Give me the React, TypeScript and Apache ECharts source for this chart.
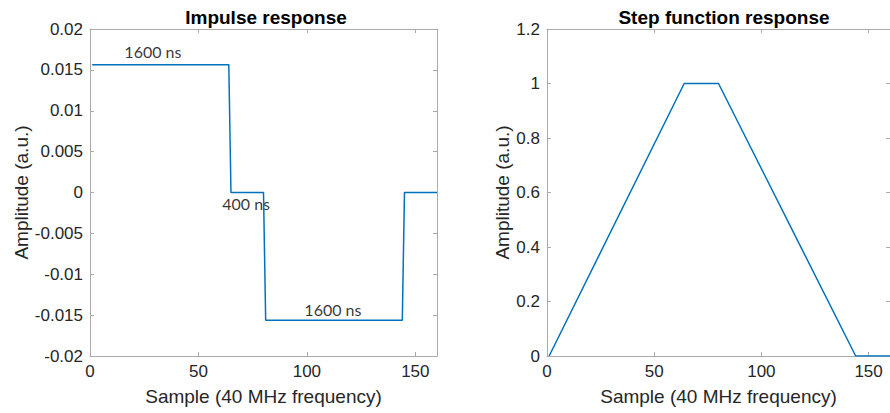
import React, { useEffect, useRef } from "react";
import * as echarts from "echarts";

// Impulse response: breakpoints [sample, amplitude]
const impulseX = [1, 64, 65, 80, 81, 144, 145, 160];
const impulseY = [0.015625, 0.015625, 0, 0, -0.015625, -0.015625, 0, 0];

// Step function response: breakpoints [sample, amplitude]
const stepX = [1, 64, 80, 144, 160];
const stepY = [0, 1, 1, 0, 0];

// Annotations on the impulse response
const annotText = ["1600 ns", "400 ns", "1600 ns"];
const annotX = [29, 72, 112];
const annotY = [0.0172, -0.00135, -0.01436];

const titles = ["Impulse response", "Step function response"];
const xName = "Sample (40 MHz frequency)";
const yName = "Amplitude (a.u.)";

const AXIS_COLOR = "#aaaaaa";
const TEXT_COLOR = "#262626";
const LINE_COLOR = "#0072BD";
const FONT = "'Liberation Sans', Arial, Helvetica, sans-serif";

export default function App() {
  const ref = useRef<HTMLDivElement>(null);

  useEffect(() => {
    document.body.style.margin = "0";
    if (!ref.current) return;
    const chart = echarts.init(ref.current, null, { renderer: "svg" });

    const grids = [
      { left: 90, top: 29, width: 347, height: 327 },
      { left: 547, top: 29, width: 348, height: 327 },
    ];

    const tickBase = {
      show: true,
      inside: true,
      length: 4,
      lineStyle: { color: AXIS_COLOR, width: 1 },
    };
    const lineBase = { show: true, lineStyle: { color: AXIS_COLOR, width: 1 } };

    const mkX = (gi: number, pos: "bottom" | "top") => ({
      type: "value",
      gridIndex: gi,
      position: pos,
      min: 0,
      max: 160,
      interval: 50,
      axisLine: { ...lineBase, onZero: false },
      axisTick: tickBase,
      splitLine: { show: false },
      axisLabel:
        pos === "bottom"
          ? {
              show: true,
              showMaxLabel: false,
              fontSize: 17,
              fontFamily: FONT,
              color: TEXT_COLOR,
              margin: 7,
            }
          : { show: false },
      name: pos === "bottom" ? xName : "",
      nameLocation: "middle",
      nameGap: 31,
      nameTextStyle: { fontSize: 19, fontFamily: FONT, color: TEXT_COLOR },
    });

    const mkY = (
      gi: number,
      pos: "left" | "right",
      min: number,
      max: number,
      interval: number,
      gap: number
    ) => ({
      type: "value",
      gridIndex: gi,
      position: pos,
      min,
      max,
      interval,
      axisLine: { ...lineBase, onZero: false },
      axisTick: tickBase,
      splitLine: { show: false },
      axisLabel:
        pos === "left"
          ? {
              show: true,
              fontSize: 17,
              fontFamily: FONT,
              color: TEXT_COLOR,
              margin: 7,
            }
          : { show: false },
      name: pos === "left" ? yName : "",
      nameLocation: "middle",
      nameGap: gap,
      nameTextStyle: { fontSize: 19, fontFamily: FONT, color: TEXT_COLOR },
    });

    const option: any = {
      animation: false,
      title: [
        {
          text: titles[0],
          left: 261,
          top: 3,
          textAlign: "center",
          textStyle: { fontSize: 19, fontWeight: "bold", fontFamily: FONT, color: "#000" },
        },
        {
          text: titles[1],
          left: 719,
          top: 3,
          textAlign: "center",
          textStyle: { fontSize: 19, fontWeight: "bold", fontFamily: FONT, color: "#000" },
        },
      ],
      grid: grids,
      xAxis: [mkX(0, "bottom"), mkX(0, "top"), mkX(1, "bottom"), mkX(1, "top")],
      yAxis: [
        mkY(0, "left", -0.02, 0.02, 0.005, 58),
        mkY(0, "right", -0.02, 0.02, 0.005, 58),
        mkY(1, "left", 0, 1.2, 0.2, 33),
        mkY(1, "right", 0, 1.2, 0.2, 33),
      ],
      series: [
        {
          type: "line",
          xAxisIndex: 0,
          yAxisIndex: 0,
          data: impulseX.map((x, i) => [x, impulseY[i]]),
          showSymbol: false,
          symbol: "none",
          lineStyle: { color: LINE_COLOR, width: 1.5 },
        },
        {
          type: "scatter",
          xAxisIndex: 0,
          yAxisIndex: 0,
          symbolSize: 0,
          data: annotX.map((x, i) => ({ value: [x, annotY[i]], name: annotText[i] })),
          label: {
            show: true,
            position: "inside",
            formatter: (p: any) => p.name,
            fontSize: 16,
            fontFamily: "Lato, 'Open Sans', sans-serif",
            color: "#000",
          },
        },
        {
          type: "line",
          xAxisIndex: 2,
          yAxisIndex: 2,
          data: stepX.map((x, i) => [x, stepY[i]]),
          showSymbol: false,
          symbol: "none",
          lineStyle: { color: LINE_COLOR, width: 1.5 },
        },
      ],
    };

    chart.setOption(option);
    return () => chart.dispose();
  }, []);

  return <div ref={ref} style={{ width: 890, height: 413 }} />;
}
